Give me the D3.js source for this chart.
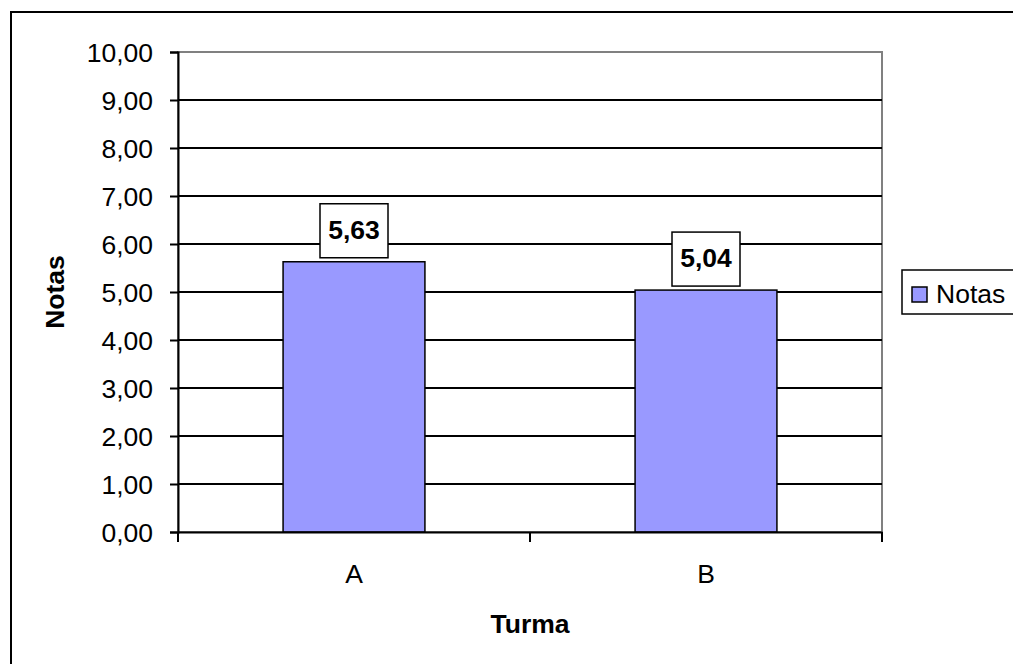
<!DOCTYPE html>
<html lang="pt">

<head>
    <meta charset="UTF-8">
    <script src="https://d3js.org/d3.v7.min.js"></script>
    <title>Notas por turma</title>
    <style>
        body { margin: 0; background: #fff; }
        text { font-family: "Liberation Sans", Arial, sans-serif; fill: #000; }
    </style>
</head>

<body>
    <div id="chart"></div>
    <script>
        // Data
        const categories = ["A", "B"];
        const values = [5.63, 5.04];
        const yTicks = [0, 1, 2, 3, 4, 5, 6, 7, 8, 9, 10];
        const seriesName = "Notas";
        const xTitle = "Turma";
        const yTitle = "Notas";

        // Number format with comma decimal
        const locale = d3.formatLocale({ decimal: ",", thousands: ".", grouping: [3], currency: ["R$", ""] });
        const fmt = locale.format(".2f");

        const width = 1013;
        const height = 664;
        const plot = { left: 178, right: 882, top: 52, bottom: 532 };
        const fontSize = 26.5;

        const svg = d3.select("#chart")
            .append("svg")
            .attr("width", width)
            .attr("height", height);

        // Outer frame (runs off the right and bottom edges)
        svg.append("rect")
            .attr("x", 11)
            .attr("y", 12)
            .attr("width", 1040)
            .attr("height", 700)
            .attr("fill", "#fff")
            .attr("stroke", "#000")
            .attr("stroke-width", 2);

        // Scales
        const x = d3.scaleBand()
            .domain(categories)
            .range([plot.left, plot.right])
            .paddingInner(0.597)
            .paddingOuter(0.2985);

        const xBand = d3.scaleBand()
            .domain(categories)
            .range([plot.left, plot.right]);

        const y = d3.scaleLinear()
            .domain([0, 10])
            .range([plot.bottom, plot.top]);

        // Plot area border (grey)
        svg.append("rect")
            .attr("x", plot.left)
            .attr("y", plot.top)
            .attr("width", plot.right - plot.left)
            .attr("height", plot.bottom - plot.top)
            .attr("fill", "none")
            .attr("stroke", "#808080")
            .attr("stroke-width", 2);

        // Gridlines
        svg.append("g")
            .selectAll("line")
            .data(yTicks.filter(d => d > 0 && d < 10))
            .join("line")
            .attr("x1", plot.left)
            .attr("x2", plot.right)
            .attr("y1", d => y(d))
            .attr("y2", d => y(d))
            .attr("stroke", "#000")
            .attr("stroke-width", 2);

        // Bars
        svg.append("g")
            .selectAll("rect")
            .data(values)
            .join("rect")
            .attr("x", (d, i) => x(categories[i]))
            .attr("y", d => y(d))
            .attr("width", x.bandwidth())
            .attr("height", d => y(0) - y(d))
            .attr("fill", "#9999ff")
            .attr("stroke", "#000")
            .attr("stroke-width", 1.5);

        // Y axis
        const yAxis = svg.append("g")
            .attr("transform", `translate(${plot.left},0)`)
            .call(d3.axisLeft(y).tickValues(yTicks).tickFormat(fmt).tickSize(8).tickPadding(17));
        yAxis.select(".domain").attr("stroke", "#000").attr("stroke-width", 2);
        yAxis.selectAll(".tick line").attr("stroke", "#000").attr("stroke-width", 2);
        yAxis.selectAll("text")
            .attr("font-size", fontSize)
            .attr("font-family", "Liberation Sans, Arial, sans-serif")
            .attr("dy", "0.35em");

        // X axis
        const xAxis = svg.append("g")
            .attr("transform", `translate(0,${plot.bottom})`)
            .call(d3.axisBottom(xBand).tickSize(0).tickPadding(32));
        xAxis.select(".domain").attr("stroke", "#000").attr("stroke-width", 2);
        xAxis.selectAll("text")
            .attr("font-size", fontSize)
            .attr("font-family", "Liberation Sans, Arial, sans-serif");

        // Tick marks on band boundaries
        const bounds = [plot.left].concat(categories.map(c => xBand(c) + xBand.bandwidth()));
        svg.append("g")
            .selectAll("line")
            .data(bounds)
            .join("line")
            .attr("x1", d => d)
            .attr("x2", d => d)
            .attr("y1", plot.bottom)
            .attr("y2", plot.bottom + 10)
            .attr("stroke", "#000")
            .attr("stroke-width", 2);

        // Data labels with boxes
        const labels = svg.append("g")
            .selectAll("g")
            .data(values)
            .join("g")
            .attr("transform", (d, i) => `translate(${x(categories[i]) + x.bandwidth() / 2},${y(d) - 31})`);

        labels.append("rect")
            .attr("x", -34)
            .attr("y", -27)
            .attr("width", 68)
            .attr("height", 54)
            .attr("fill", "#fff")
            .attr("stroke", "#000")
            .attr("stroke-width", 1.5);

        labels.append("text")
            .attr("text-anchor", "middle")
            .attr("dy", "0.3em")
            .attr("font-size", fontSize)
            .attr("font-weight", "bold")
            .text(d => fmt(d));

        // Axis titles
        svg.append("text")
            .attr("x", (plot.left + plot.right) / 2)
            .attr("y", 633)
            .attr("text-anchor", "middle")
            .attr("font-size", fontSize)
            .attr("font-weight", "bold")
            .text(xTitle);

        svg.append("text")
            .attr("transform", `translate(64,${(plot.top + plot.bottom) / 2}) rotate(-90)`)
            .attr("text-anchor", "middle")
            .attr("font-size", fontSize)
            .attr("font-weight", "bold")
            .text(yTitle);

        // Legend
        const legend = svg.append("g").attr("transform", "translate(902,270)");
        legend.append("rect")
            .attr("width", 130)
            .attr("height", 44)
            .attr("fill", "#fff")
            .attr("stroke", "#000")
            .attr("stroke-width", 1.5);
        legend.append("rect")
            .attr("x", 10)
            .attr("y", 17)
            .attr("width", 15)
            .attr("height", 15)
            .attr("fill", "#9999ff")
            .attr("stroke", "#000")
            .attr("stroke-width", 1.5);
        legend.append("text")
            .attr("x", 34)
            .attr("y", 24)
            .attr("dy", "0.35em")
            .attr("font-size", fontSize)
            .text(seriesName);
    </script>
</body>

</html>
